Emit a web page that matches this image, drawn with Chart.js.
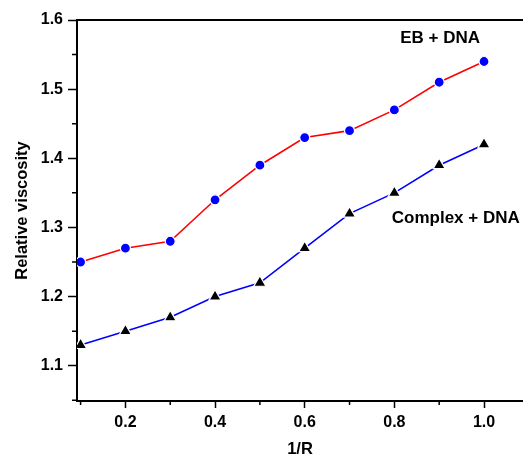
<!DOCTYPE html>
<html>
<head>
<meta charset="utf-8">
<script src="https://cdn.jsdelivr.net/npm/chart.js@4.4.1/dist/chart.umd.min.js"></script>
<style>
    html, body { margin: 0; padding: 0; background: #fff; }
    #wrap { width: 523px; height: 456px; }
</style>
</head>
<body>
<div id="wrap"><canvas id="chart" width="523" height="456"></canvas></div>
<script>
var ratios = [0.1, 0.2, 0.3, 0.4, 0.5, 0.6, 0.7, 0.8, 0.9, 1.0];
var ebDna = [1.25, 1.27, 1.28, 1.34, 1.39, 1.43, 1.44, 1.47, 1.51, 1.54];
var complexDna = [1.13, 1.15, 1.17, 1.20, 1.22, 1.27, 1.32, 1.35, 1.39, 1.42];
var seriesNames = ['EB + DNA', 'Complex + DNA'];

var family = 'Arial, "Liberation Sans", sans-serif';
var tickFont = { family: family, size: 16, weight: 'bold' };
var titleFont = { family: family, size: 16.5, weight: 'bold' };

function toPoints(ys) {
    return ratios.map((x, i) => ({ x: x, y: ys[i] }));
}

// is the tick a labelled (major) one
function isMajor(v, every) {
    return Math.round(v * 100) % every === 0;
}

// draws top frame line, short minor ticks and the series labels
var extras = {
    id: 'extras',
    afterDraw: function (chart) {
        var ctx = chart.ctx, a = chart.chartArea;
        var xs = chart.scales.x, ys = chart.scales.y;
        ctx.save();
        ctx.strokeStyle = '#000';
        ctx.lineWidth = 2;
        ctx.beginPath();
        ctx.moveTo(a.left - 1, a.top);
        ctx.lineTo(a.right, a.top);
        ctx.stroke();

        ctx.lineWidth = 1.5;
        ctx.beginPath();
        xs.ticks.forEach(function (t) {
            if (!isMajor(t.value, 20)) {
                var px = xs.getPixelForValue(t.value);
                ctx.moveTo(px, a.bottom);
                ctx.lineTo(px, a.bottom + 4);
            }
        });
        ys.ticks.forEach(function (t) {
            if (!isMajor(t.value, 10)) {
                var py = ys.getPixelForValue(t.value);
                ctx.moveTo(a.left, py);
                ctx.lineTo(a.left - 5, py);
            }
        });
        ctx.stroke();

        ctx.fillStyle = '#000';
        ctx.font = 'bold 17px ' + family;
        ctx.textAlign = 'center';
        ctx.textBaseline = 'middle';
        ctx.fillText(seriesNames[0], xs.getPixelForValue(0.902), ys.getPixelForValue(1.573));
        ctx.fillText(seriesNames[1], xs.getPixelForValue(0.937), ys.getPixelForValue(1.313));
        ctx.restore();
    }
};

new Chart(document.getElementById('chart'), {
    type: 'line',
    data: {
        datasets: [{
            label: seriesNames[0],
            data: toPoints(ebDna),
            borderColor: '#ff0000',
            borderWidth: 1.6,
            pointStyle: 'circle',
            pointRadius: 5,
            pointBackgroundColor: '#0000ff',
            pointBorderColor: '#ffffff',
            pointBorderWidth: 1.2,
            tension: 0
        }, {
            label: seriesNames[1],
            data: toPoints(complexDna),
            borderColor: '#0000ff',
            borderWidth: 1.6,
            pointStyle: 'triangle',
            pointRadius: 7,
            pointBackgroundColor: '#000000',
            pointBorderColor: '#ffffff',
            pointBorderWidth: 1.2,
            tension: 0
        }]
    },
    options: {
        responsive: false,
        animation: false,
        layout: { autoPadding: false, padding: { top: 20, right: 0, left: 0, bottom: 0 } },
        plugins: {
            legend: { display: false },
            tooltip: { enabled: false }
        },
        scales: {
            x: {
                type: 'linear',
                min: 0.092,
                max: 1.087,
                afterFit: function (s) { s.height = 55; s.paddingRight = 0; s.paddingLeft = 0; },
                grid: { drawOnChartArea: false, tickLength: 7, tickWidth: 1.5, tickColor: function (c) { return isMajor(c.tick.value, 20) ? '#000' : 'rgba(0,0,0,0)'; } },
                border: { color: '#000', width: 2 },
                ticks: {
                    stepSize: 0.1,
                    includeBounds: false,
                    color: '#000',
                    font: tickFont,
                    padding: 5,
                    maxRotation: 0,
                    autoSkip: false,
                    callback: function (v) { return isMajor(v, 20) ? v.toFixed(1) : ''; }
                },
                title: { display: true, text: '1/R', color: '#000', font: titleFont, padding: { top: 0, bottom: -3 } }
            },
            y: {
                min: 1.049,
                max: 1.6,
                afterFit: function (s) { s.width = 77; },
                grid: { drawOnChartArea: false, tickLength: 9, tickWidth: 1.5, tickColor: function (c) { return isMajor(c.tick.value, 10) ? '#000' : 'rgba(0,0,0,0)'; } },
                border: { color: '#000', width: 2 },
                ticks: {
                    stepSize: 0.05,
                    includeBounds: false,
                    color: '#000',
                    font: tickFont,
                    padding: 5,
                    autoSkip: false,
                    callback: function (v) { return isMajor(v, 10) ? v.toFixed(1) : ''; }
                },
                title: { display: true, text: 'Relative viscosity', color: '#000', font: titleFont, padding: { top: 13, bottom: 0 } }
            }
        }
    },
    plugins: [extras]
});
</script>
</body>
</html>
